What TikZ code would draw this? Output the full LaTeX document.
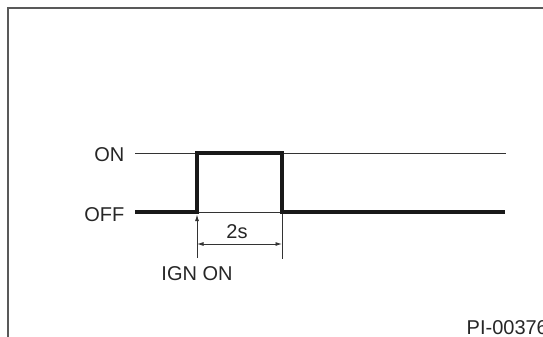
\documentclass[tikz,border=0pt]{standalone}
\usepackage{fontspec}
\setmainfont{Liberation Sans}
\usetikzlibrary{arrows.meta}
\begin{document}
\begin{tikzpicture}[x=1pt,y=-1pt,
  lbl/.style={inner sep=0pt,font=\fontsize{20}{23}\selectfont,text=black!85},
  thin line/.style={line width=0.9pt,draw=black!80},
  thick line/.style={line width=3.8pt,draw=black!90,line join=miter},
  frame/.style={line width=1.6pt,draw=black!65},
  tip/.style={-{Latex[length=6.5pt,width=4pt]}},
  dtip/.style={{Latex[length=6.5pt,width=4pt]}-{Latex[length=6.5pt,width=4pt]}}]
\useasboundingbox (0,0) rectangle (543,337);
\clip (0,0) rectangle (543,337);
% frame
\coordinate (fb) at (8,337);
\coordinate (fc) at (8,8);
\coordinate (fr) at (543,8);
\draw[frame] (fb) -- (fc) -- (fr);
% labels
\node[lbl,anchor=east] (on) at (124.5,155) {ON};
\node[lbl,anchor=east] (off) at (124.5,215) {OFF};
% waveform coordinates
\coordinate (onS) at (135,153);
\coordinate (onE) at (506,153);
\coordinate (offS) at (135,212);
\coordinate (r0) at (197,212);
\coordinate (r1) at (197,153);
\coordinate (f1) at (282,153);
\coordinate (f0) at (282,212);
\coordinate (offE) at (505,212);
\draw[thin line] (onS) -- (onE);
\draw[thin line] (r0) -- (f0);
\draw[thick line] (offS) -- (r0) -- (r1) -- (f1) -- (f0) -- (offE);
% dimension
\coordinate (a0) at (197,258);
\coordinate (a1) at (197,214.5);
\coordinate (e0) at (282,214);
\coordinate (e1) at (282,259);
\coordinate (d0) at (197,244);
\coordinate (d1) at (282,244);
\draw[thin line,tip] (a0) -- (a1);
\draw[thin line] (e0) -- (e1);
\draw[thin line,dtip] (d0) -- (d1);
\node[lbl] (two) at (237,232) {2s};
\node[lbl] (ign) at (197,274) {IGN ON};
\node[lbl,anchor=base west] (pi) at (466.5,334) {PI-00376};
\end{tikzpicture}
\end{document}
